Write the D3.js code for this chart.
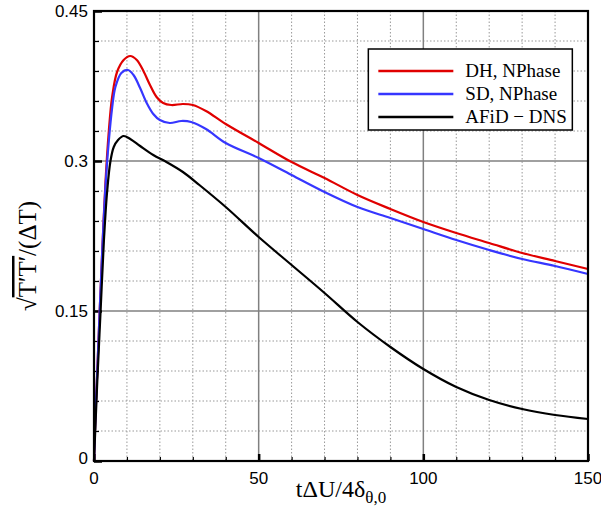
<!DOCTYPE html>
<html>
<head>
<meta charset="utf-8">
<script src="https://cdn.jsdelivr.net/npm/d3@7"></script>
<style>
  body { margin: 0; background: #fff; }
  svg text { fill: #000; }
</style>
</head>
<body>
<div id="chart"></div>
<script>
// values
var seriesNames = ["DH, NPhase", "SD, NPhase", "AFiD \u2212 DNS"];
var seriesColors = ["#e00000", "#3636ff", "#000000"];

var dhT = [0, 0.5, 1, 1.7, 2.5, 3.5, 4.5, 5.5, 7, 9, 11, 13, 15, 17, 19, 21, 23.5, 27, 30, 34, 40, 50, 60, 70, 80, 90, 100, 110, 120, 130, 140, 150];
var dhV = [0, 0.05, 0.09, 0.148, 0.21, 0.28, 0.33, 0.364, 0.389, 0.401, 0.405, 0.401, 0.39, 0.376, 0.364, 0.358, 0.356, 0.357, 0.356, 0.35, 0.337, 0.318, 0.299, 0.283, 0.266, 0.252, 0.239, 0.228, 0.218, 0.208, 0.2, 0.192];

var sdT = [0, 0.5, 1, 1.7, 2.5, 3.5, 4.5, 5.5, 6.5, 8.3, 10.3, 12, 14, 16, 18, 20, 23, 26.5, 29.5, 34, 40, 50, 60, 70, 80, 90, 100, 110, 120, 130, 140, 150];
var sdV = [0, 0.05, 0.09, 0.148, 0.21, 0.275, 0.32, 0.353, 0.374, 0.388, 0.391, 0.386, 0.373, 0.358, 0.347, 0.341, 0.338, 0.34, 0.339, 0.332, 0.318, 0.303, 0.286, 0.269, 0.254, 0.243, 0.232, 0.221, 0.211, 0.202, 0.195, 0.187];

var dnsT = [0, 0.5, 1, 2, 3, 4, 5, 6, 7.3, 9, 11, 14, 18, 22, 27, 32, 40, 50, 60, 70, 80, 90, 100, 110, 120, 130, 140, 150];
var dnsV = [0, 0.04, 0.08, 0.15, 0.22, 0.27, 0.3, 0.314, 0.321, 0.325, 0.322, 0.315, 0.306, 0.299, 0.289, 0.276, 0.254, 0.224, 0.196, 0.168, 0.139, 0.114, 0.092, 0.074, 0.061, 0.052, 0.046, 0.042];

var xTicks = [0, 50, 100, 150];
var yTicks = [0, 0.15, 0.3, 0.45];
var xMinor = d3.range(0, 151, 10);
var yMinor = d3.range(0, 16).map(function(i){ return +(i * 0.03).toFixed(2); });

var allSeries = [
  {t: dhT, v: dhV},
  {t: sdT, v: sdV},
  {t: dnsT, v: dnsV}
];

var width = 601, height = 514;
var margin = {top: 11, right: 13, bottom: 53, left: 94};
var w = width - margin.left - margin.right,
    h = height - margin.top - margin.bottom;

var svg = d3.select("#chart").append("svg")
    .attr("width", width)
    .attr("height", height);

var g = svg.append("g")
    .attr("transform", "translate(" + margin.left + "," + margin.top + ")");

var x = d3.scaleLinear().domain([0, 150]).range([0, w]);
var y = d3.scaleLinear().domain([0, 0.45]).range([h, 0]);

// minor dotted grid
g.append("g").selectAll("line")
    .data(xMinor.filter(function(d){ return xTicks.indexOf(d) < 0; }))
  .enter().append("line")
    .attr("x1", function(d){ return x(d); }).attr("x2", function(d){ return x(d); })
    .attr("y1", 0).attr("y2", h)
    .attr("stroke", "#999").attr("stroke-width", 1).attr("stroke-dasharray", "1.5,2");

g.append("g").selectAll("line")
    .data(yMinor.filter(function(d){ return yTicks.indexOf(d) < 0; }))
  .enter().append("line")
    .attr("y1", function(d){ return y(d); }).attr("y2", function(d){ return y(d); })
    .attr("x1", 0).attr("x2", w)
    .attr("stroke", "#999").attr("stroke-width", 1).attr("stroke-dasharray", "1.5,2");

// major solid grid
g.append("g").selectAll("line")
    .data([50, 100])
  .enter().append("line")
    .attr("x1", function(d){ return x(d); }).attr("x2", function(d){ return x(d); })
    .attr("y1", 0).attr("y2", h)
    .attr("stroke", "#808080").attr("stroke-width", 1.5);

g.append("g").selectAll("line")
    .data([0.15, 0.3])
  .enter().append("line")
    .attr("y1", function(d){ return y(d); }).attr("y2", function(d){ return y(d); })
    .attr("x1", 0).attr("x2", w)
    .attr("stroke", "#808080").attr("stroke-width", 1.5);

// axes with inward ticks
var xAxis = d3.axisBottom(x).tickValues(xMinor).tickSize(-4).tickFormat("");
var yAxis = d3.axisLeft(y).tickValues(yMinor).tickSize(-5).tickFormat("");

g.append("g").attr("transform", "translate(0," + h + ")").call(xAxis)
  .call(function(s){ s.select(".domain").remove(); s.selectAll("line").attr("stroke-width", 1.2); });
g.append("g").call(yAxis)
  .call(function(s){ s.select(".domain").remove(); s.selectAll("line").attr("stroke-width", 1.2); });

g.append("g").attr("transform", "translate(0," + h + ")")
  .call(d3.axisBottom(x).tickValues(xTicks).tickSize(-7).tickFormat(""))
  .call(function(s){ s.select(".domain").remove(); s.selectAll("line").attr("stroke-width", 2.5); });
g.append("g")
  .call(d3.axisLeft(y).tickValues(yTicks).tickSize(-8).tickFormat(""))
  .call(function(s){ s.select(".domain").remove(); s.selectAll("line").attr("stroke-width", 2.5); });

// tick labels
g.append("g").selectAll("text")
    .data(xTicks)
  .enter().append("text")
    .attr("x", function(d){ return x(d); })
    .attr("y", h + 23)
    .attr("text-anchor", "middle")
    .style("font-family", "'Liberation Sans', Arial, sans-serif")
    .style("font-size", "17px")
    .text(function(d){ return d; });

g.append("g").selectAll("text")
    .data(yTicks)
  .enter().append("text")
    .attr("x", -6)
    .attr("y", function(d){ return y(d) + (d === 0 ? 3 : 6); })
    .attr("text-anchor", "end")
    .style("font-family", "'Liberation Sans', Arial, sans-serif")
    .style("font-size", "17px")
    .text(function(d){ return d; });

// curves
var line = d3.line()
    .x(function(d){ return x(d[0]); })
    .y(function(d){ return y(d[1]); })
    .curve(d3.curveCatmullRom.alpha(0.5));

var plot = g.append("g");
allSeries.forEach(function(s, i){
  var pts = s.t.map(function(t, j){ return [t, s.v[j]]; });
  plot.append("path")
    .datum(pts)
    .attr("fill", "none")
    .attr("stroke", seriesColors[i])
    .attr("stroke-width", 2.2)
    .attr("d", line);
});

// frame
g.append("rect")
    .attr("x", 0).attr("y", 0).attr("width", w).attr("height", h)
    .attr("fill", "none").attr("stroke", "#000").attr("stroke-width", 2.2);

// legend
var legend = g.append("g").attr("transform", "translate(" + (x(83.3)) + "," + (y(0.412)) + ")");
legend.append("rect")
    .attr("width", 204).attr("height", 81)
    .attr("fill", "#fff").attr("stroke", "#000").attr("stroke-width", 1.5);
seriesNames.forEach(function(name, i){
  var ly = 22 + i * 23;
  legend.append("line")
    .attr("x1", 10).attr("x2", 85)
    .attr("y1", ly).attr("y2", ly)
    .attr("stroke", seriesColors[i]).attr("stroke-width", 2.5);
  legend.append("text")
    .attr("x", 97).attr("y", ly + 6)
    .style("font-family", "'Liberation Serif', 'Times New Roman', serif")
    .style("font-size", "19px")
    .text(name);
});

// axis titles
var xl = svg.append("text")
    .attr("x", margin.left + w / 2)
    .attr("y", 497)
    .attr("text-anchor", "middle")
    .style("font-family", "'Liberation Serif', 'Times New Roman', serif")
    .style("font-size", "24px");
xl.append("tspan").text("t\u0394U/4\u03b4");
xl.append("tspan").attr("dy", 6).style("font-size", "17px").text("\u03b8,0");

var yl = svg.append("text")
    .attr("transform", "translate(36," + 256 + ") rotate(-90)")
    .attr("text-anchor", "middle")
    .style("font-family", "'Liberation Serif', 'Times New Roman', serif")
    .style("font-size", "25px");
yl.append("tspan").text("\u221a");
yl.append("tspan").style("text-decoration", "overline").text("T\u2032T\u2032");
yl.append("tspan").text("/(\u0394T)");
</script>
</body>
</html>
